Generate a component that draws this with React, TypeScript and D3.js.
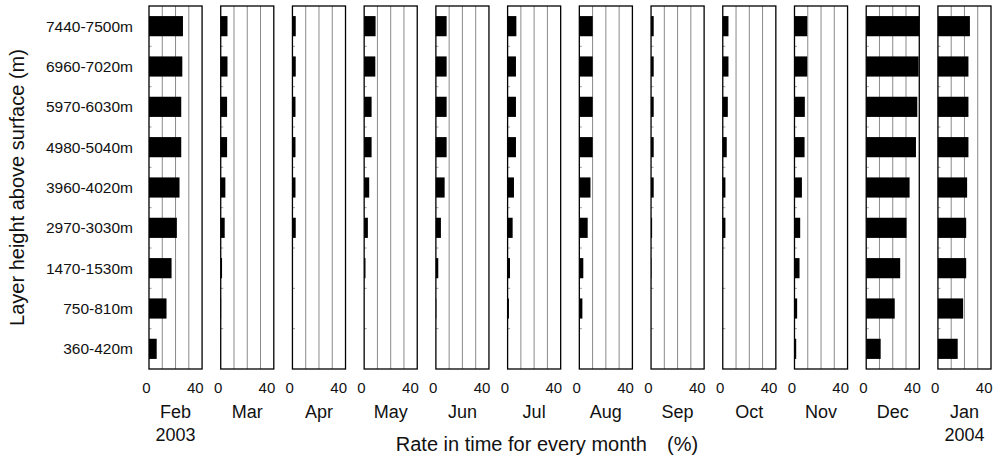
import React from "react";
import * as d3 from "d3";

// layer heights, top to bottom
const layers = [
  "7440-7500m",
  "6960-7020m",
  "5970-6030m",
  "4980-5040m",
  "3960-4020m",
  "2970-3030m",
  "1470-1530m",
  "750-810m",
  "360-420m",
];

const months = ["Feb", "Mar", "Apr", "May", "Jun", "Jul", "Aug", "Sep", "Oct", "Nov", "Dec", "Jan"];
const years = ["2003", "", "", "", "", "", "", "", "", "", "", "2004"];
const xTicks = [0, 40];

// rate (%) per layer, same order as layers
const feb = [25.6, 25.1, 24.3, 24.3, 23.0, 21.0, 17.0, 13.2, 5.8];
const mar = [5.1, 5.1, 4.8, 4.8, 3.5, 3.0, 1.0, 0.3, 0.2];
const apr = [2.5, 2.5, 2.3, 2.3, 2.3, 2.5, 0, 0, 0];
const may = [8.6, 8.4, 5.6, 5.6, 3.8, 2.8, 1.0, 0, 0];
const jun = [8.1, 8.1, 8.1, 8.1, 6.6, 3.8, 1.8, 0.3, 0];
const jul = [6.6, 6.3, 6.3, 6.3, 4.8, 3.8, 1.8, 1.0, 0];
const aug = [10.1, 10.1, 10.1, 10.1, 8.4, 6.3, 3.0, 2.3, 0];
const sep = [2.0, 2.0, 2.0, 2.0, 2.0, 0.8, 0.3, 0, 0];
const oct = [4.3, 4.3, 3.8, 3.0, 2.0, 2.0, 0, 0, 0];
const nov = [9.6, 9.6, 7.8, 7.6, 5.6, 4.3, 3.8, 2.0, 1.3];
const dec = [40.0, 39.5, 38.5, 37.5, 32.7, 30.4, 25.6, 21.5, 10.9];
const jan = [24.1, 23.0, 23.0, 23.0, 22.0, 21.3, 21.3, 19.0, 14.9];

const series = [feb, mar, apr, may, jun, jul, aug, sep, oct, nov, dec, jan];

const font = "'Liberation Sans', Arial, Helvetica, sans-serif";

export default function App() {
  const width = 1002;
  const height = 460;
  const top = 6;
  const bottom = 369;

  const xPanel = d3.scaleBand<string>().domain(months).range([149, 991]).paddingInner(0.26).paddingOuter(0);
  const bw = xPanel.bandwidth();
  const x = d3.scaleLinear().domain([0, 40]).range([0, bw]);
  const y = d3.scaleBand<string>().domain(layers).range([top, bottom]).paddingInner(0.5).paddingOuter(0.25);
  const step = y.step();
  const bounds = d3.range(1, layers.length).map((i) => top + i * step);
  const grid = [10, 20, 30];

  return (
    <svg
      width={width}
      height={height}
      style={{ position: "absolute", left: 0, top: 0, display: "block", background: "#fff" }}
      fontFamily={font}
    >
      {/* y labels */}
      {layers.map((l) => (
        <text key={l} x={133} y={y(l)! + y.bandwidth() / 2} dy="0.36em" textAnchor="end" fontSize={15.5} fill="#111">
          {l}
        </text>
      ))}
      <text
        transform={`translate(24,${(top + bottom) / 2}) rotate(-90)`}
        textAnchor="middle"
        fontSize={20}
        fill="#111"
      >
        Layer height above surface (m)
      </text>

      {months.map((m, mi) => {
        const x0 = xPanel(m)!;
        const vals = series[mi];
        return (
          <g key={m} transform={`translate(${x0},0)`}>
            {grid.map((g) => (
              <line key={g} x1={x(g)} x2={x(g)} y1={top} y2={bottom} stroke="#8a8a8a" strokeWidth={1} />
            ))}
            {bounds.map((b, i) => (
              <line key={i} x1={0} x2={2.5} y1={b} y2={b} stroke="#999" strokeWidth={1} />
            ))}
            {layers.map((l, li) =>
              vals[li] > 0 ? (
                <rect key={l} x={0} y={y(l)!} width={x(vals[li])} height={y.bandwidth()} fill="#000" />
              ) : null
            )}
            <rect x={0} y={top} width={bw} height={bottom - top} fill="none" stroke="#000" strokeWidth={1.3} />
            {xTicks.map((t) => (
              <text key={t} x={x(t) + 1.5} y={393} textAnchor="end" fontSize={15} fill="#111">
                {t}
              </text>
            ))}
            <text x={bw / 2} y={418} textAnchor="middle" fontSize={18} fill="#111">
              {m}
            </text>
            {years[mi] ? (
              <text x={bw / 2} y={441} textAnchor="middle" fontSize={18} fill="#111">
                {years[mi]}
              </text>
            ) : null}
          </g>
        );
      })}

      <text x={647} y={451} textAnchor="end" fontSize={20} fill="#111">
        Rate in time for every month
      </text>
      <text x={667} y={451} textAnchor="start" fontSize={20} fill="#111">
        (%)
      </text>
    </svg>
  );
}
